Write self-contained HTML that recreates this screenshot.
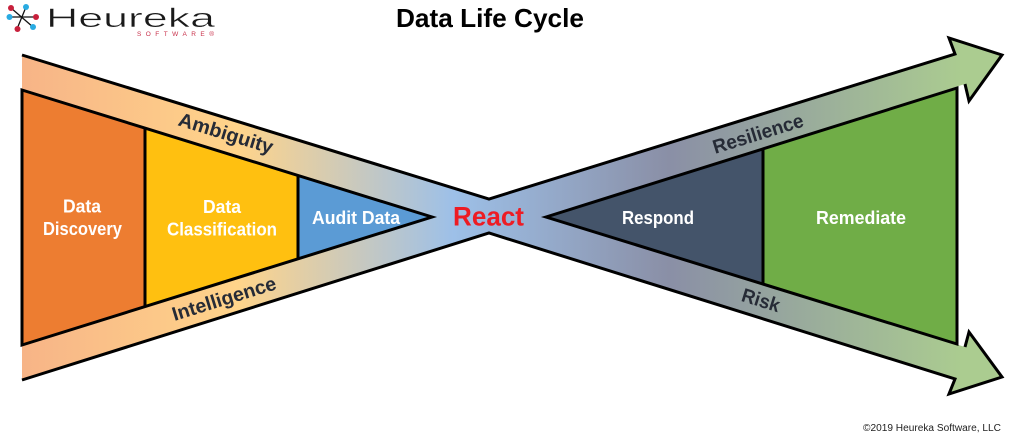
<!DOCTYPE html>
<html>
<head>
<meta charset="utf-8">
<style>
html,body{margin:0;padding:0;background:#fff;width:1024px;height:438px;overflow:hidden}
svg{display:block}
text{font-family:"Liberation Sans",sans-serif}
</style>
</head>
<body>
<svg width="1024" height="438" viewBox="0 0 1024 438" xmlns="http://www.w3.org/2000/svg">
<defs>
<linearGradient id="g" gradientUnits="userSpaceOnUse" x1="22" y1="0" x2="1002" y2="0">
<stop offset="0" stop-color="#F7B487"/>
<stop offset="0.22" stop-color="#FFD48A"/>
<stop offset="0.44" stop-color="#9DC0E8"/>
<stop offset="0.66" stop-color="#8A8FA6"/>
<stop offset="0.96" stop-color="#ABCC90"/>
<stop offset="1" stop-color="#ABCC90"/>
</linearGradient>
</defs>

<!-- bow tie with arrows -->
<path d="M22 55 L489 199 L955 54 L949 38 L1002 55 L969 101 L965 84 L546 217 L965 347 L969 332 L1002 377 L949 394 L955 379 L489 233 L22 380 Z" fill="url(#g)" stroke="none"/>
<g fill="none" stroke="#000" stroke-width="3" stroke-linejoin="miter">
<path d="M22 55 L489 199 L955 54 L949 38 L1002 55 L969 101 L965 84"/>
<path d="M22 380 L489 233 L955 379 L949 394 L1002 377 L969 332 L965 347"/>
</g>

<!-- left funnel -->
<polygon points="22,90 145,128 145,306 22,345" fill="#ED7D31"/>
<polygon points="145,128 298,175 298,258 145,306" fill="#FFC010"/>
<polygon points="298,175 432,217 298,258" fill="#5B9BD5"/>
<g fill="none" stroke="#000" stroke-width="3">
<polygon points="22,90 432,217 22,345"/>
<line x1="145" y1="128" x2="145" y2="306"/>
<line x1="298" y1="175" x2="298" y2="258"/>
</g>

<!-- right funnel -->
<polygon points="546,217 763,149 763,284" fill="#44546A"/>
<polygon points="763,149 957,88 957,344 763,284" fill="#70AD47"/>
<g fill="none" stroke="#000" stroke-width="3">
<polygon points="546,217 957,88 957,344"/>
<line x1="763" y1="149" x2="763" y2="284"/>
</g>

<!-- labels -->
<text x="490" y="27" text-anchor="middle" font-size="26" font-weight="700" fill="#000" textLength="188" lengthAdjust="spacingAndGlyphs">Data Life Cycle</text>

<g font-size="18" font-weight="700" fill="#fff" text-anchor="middle">
<text x="82" y="212.500" textLength="38" lengthAdjust="spacingAndGlyphs">Data</text>
<text x="82.500" y="235" textLength="79" lengthAdjust="spacingAndGlyphs">Discovery</text>
<text x="222" y="213" textLength="38" lengthAdjust="spacingAndGlyphs">Data</text>
<text x="222" y="235.500" textLength="110" lengthAdjust="spacingAndGlyphs">Classification</text>
<text x="356" y="224" textLength="88" lengthAdjust="spacingAndGlyphs">Audit Data</text>
<text x="658" y="224" textLength="72" lengthAdjust="spacingAndGlyphs">Respond</text>
<text x="861" y="224" textLength="90" lengthAdjust="spacingAndGlyphs">Remediate</text>
</g>

<text x="488.500" y="225.500" text-anchor="middle" font-size="27" font-weight="700" fill="#ED1C24" textLength="71" lengthAdjust="spacingAndGlyphs">React</text>

<g font-size="19.500" font-weight="700" fill="#262B36" text-anchor="middle">
<text transform="translate(224,139.500) rotate(17.1)" textLength="98" lengthAdjust="spacingAndGlyphs">Ambiguity</text>
<text transform="translate(226,305) rotate(-17.3)" textLength="108" lengthAdjust="spacingAndGlyphs">Intelligence</text>
<text transform="translate(760,140) rotate(-17.2)" textLength="94" lengthAdjust="spacingAndGlyphs">Resilience</text>
<text transform="translate(759,306.500) rotate(17.2)" textLength="39" lengthAdjust="spacingAndGlyphs">Risk</text>
</g>

<!-- logo -->
<g stroke="#111" stroke-width="1.300">
<line x1="11" y1="8" x2="33" y2="27"/>
<line x1="26" y1="7" x2="17" y2="29"/>
<line x1="9" y1="17" x2="36" y2="17"/>
</g>
<circle cx="11" cy="8" r="3" fill="#C8203C"/>
<circle cx="26" cy="7" r="3" fill="#29ABE2"/>
<circle cx="9.500" cy="17" r="3" fill="#29ABE2"/>
<circle cx="36" cy="17" r="3" fill="#C8203C"/>
<circle cx="33" cy="27" r="3" fill="#29ABE2"/>
<circle cx="17.500" cy="29" r="3" fill="#C8203C"/>
<text x="46" y="27" font-size="27" fill="#1a1a1a" stroke="#fff" stroke-width="0.500" textLength="169" lengthAdjust="spacingAndGlyphs">Heureka</text>
<text x="137" y="36" font-size="6.500" fill="#C8304A" textLength="77" lengthAdjust="spacing">SOFTWARE®</text>

<text x="1001" y="431" text-anchor="end" font-size="10" fill="#222" textLength="138" lengthAdjust="spacingAndGlyphs">©2019 Heureka Software, LLC</text>
</svg>
</body>
</html>
